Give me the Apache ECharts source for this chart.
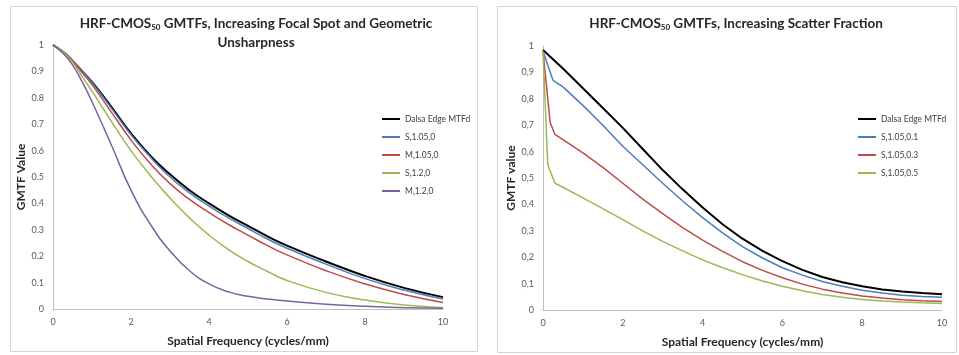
<!DOCTYPE html>
<html>
<head>
<meta charset="utf-8">
<script src="https://cdn.jsdelivr.net/npm/echarts@6/dist/echarts.min.js"></script>
<style>
  html, body { margin: 0; padding: 0; background: #fff; }
  #chart { width: 959px; height: 355px; }
</style>
</head>
<body>
<div id="chart"></div>
<script>
// left panel: focal spot / geometric unsharpness
const freqLeft = [0, 0.25, 0.5, 0.75, 1, 1.5, 2, 2.5, 3, 3.5, 4, 4.5, 5, 5.5, 6, 7, 8, 9, 10]
const dalsaLeft = [1, 0.975, 0.94, 0.9, 0.86, 0.765, 0.665, 0.58, 0.51, 0.45, 0.4, 0.355, 0.315, 0.275, 0.24, 0.18, 0.125, 0.08, 0.045]
const s105 = [1, 0.975, 0.94, 0.9, 0.858, 0.76, 0.66, 0.575, 0.5, 0.44, 0.39, 0.345, 0.305, 0.265, 0.23, 0.17, 0.115, 0.072, 0.038]
const m105 = [1, 0.975, 0.94, 0.895, 0.85, 0.745, 0.64, 0.55, 0.475, 0.415, 0.365, 0.32, 0.28, 0.24, 0.205, 0.145, 0.095, 0.055, 0.025]
const s12 = [1, 0.975, 0.935, 0.88, 0.825, 0.71, 0.6, 0.505, 0.42, 0.345, 0.28, 0.225, 0.18, 0.142, 0.108, 0.063, 0.034, 0.015, 0.005]
const m12 = [1, 0.97, 0.925, 0.86, 0.785, 0.62, 0.45, 0.32, 0.22, 0.145, 0.095, 0.065, 0.048, 0.038, 0.03, 0.018, 0.01, 0.005, 0.003]

// right panel: scatter fraction
const freqDalsaR = [0, 0.5, 1, 1.5, 2, 2.5, 3, 3.5, 4, 4.5, 5, 5.5, 6, 6.5, 7, 7.5, 8, 8.5, 9, 9.5, 10]
const dalsaRight = [0.985, 0.915, 0.84, 0.765, 0.69, 0.61, 0.53, 0.457, 0.388, 0.325, 0.27, 0.224, 0.185, 0.152, 0.125, 0.105, 0.09, 0.078, 0.07, 0.064, 0.06]
const freqSf01 = [0, 0.25, 0.5, 1, 1.5, 2, 2.5, 3, 3.5, 4, 4.5, 5, 5.5, 6, 6.5, 7, 7.5, 8, 8.5, 9, 9.5, 10]
const sf01 = [0.98, 0.87, 0.845, 0.775, 0.7, 0.62, 0.55, 0.48, 0.413, 0.35, 0.292, 0.24, 0.197, 0.16, 0.132, 0.108, 0.09, 0.075, 0.064, 0.056, 0.051, 0.048]
const freqSf03 = [0, 0.18, 0.3, 0.5, 1, 1.5, 2, 2.5, 3, 3.5, 4, 4.5, 5, 5.5, 6, 6.5, 7, 7.5, 8, 8.5, 9, 9.5, 10]
const sf03 = [0.98, 0.71, 0.665, 0.645, 0.595, 0.54, 0.48, 0.42, 0.365, 0.312, 0.265, 0.222, 0.183, 0.15, 0.122, 0.098, 0.079, 0.064, 0.053, 0.045, 0.039, 0.035, 0.032]
const freqSf05 = [0, 0.12, 0.3, 0.5, 1, 1.5, 2, 2.5, 3, 3.5, 4, 4.5, 5, 5.5, 6, 6.5, 7, 7.5, 8, 8.5, 9, 9.5, 10]
const sf05 = [0.98, 0.55, 0.48, 0.465, 0.425, 0.384, 0.342, 0.3, 0.26, 0.224, 0.19, 0.16, 0.134, 0.11, 0.09, 0.073, 0.059, 0.048, 0.04, 0.034, 0.03, 0.027, 0.025]

const namesLeft = ['Dalsa Edge MTFd', 'S,1.05,0', 'M,1.05,0', 'S,1.2,0', 'M,1.2,0']
const namesRight = ['Dalsa Edge MTFd ', 'S,1.05,0.1', 'S,1.05,0.3', 'S,1.05,0.5']

const FONT = 'Lato, "Liberation Sans", sans-serif'
const BLACK = '#000000', BLUE = '#4a7ebb', RED = '#be4b48', GREEN = '#98b954', PURPLE = '#7d60a0'

function pairs(xs, ys) {
  return xs.map(function (x, i) { return [x, ys[i]] })
}

function xAxisFor(gridIndex) {
  return {
    type: 'value', gridIndex: gridIndex, min: 0, max: 10, interval: 2,
    name: 'Spatial Frequency (cycles/mm)', nameLocation: 'middle', nameGap: 26,
    nameTextStyle: { fontFamily: FONT, fontWeight: 'bold', fontSize: 12, color: '#262626' },
    axisLine: { lineStyle: { color: '#bfbfbf', width: 1 } },
    axisTick: { show: false },
    axisLabel: { fontFamily: FONT, fontSize: 9, color: '#595959', margin: 9 },
    splitLine: { show: false }
  }
}

function yAxisFor(gridIndex, name, comma) {
  return {
    type: 'value', gridIndex: gridIndex, min: 0, max: 1, interval: 0.1,
    name: name, nameLocation: 'middle', nameGap: 26,
    nameTextStyle: { fontFamily: FONT, fontWeight: 'bold', fontSize: 12, color: '#262626' },
    axisLine: { show: true, lineStyle: { color: '#bfbfbf', width: 1 } },
    axisTick: { show: false },
    axisLabel: {
      fontFamily: FONT, fontSize: 9, color: '#595959', margin: 9,
      formatter: function (v) {
        let s = String(Math.round(v * 10) / 10)
        return comma ? s.replace('.', ',') : s
      }
    },
    splitLine: { show: false }
  }
}

function line(name, data, color, xi, width, smooth) {
  return {
    name: name, type: 'line', xAxisIndex: xi, yAxisIndex: xi,
    data: data, showSymbol: false, smooth: smooth,
    lineStyle: { color: color, width: width },
    itemStyle: { color: color }
  }
}

const legendStyle = {
  orient: 'vertical', itemWidth: 18, itemHeight: 2, itemGap: 8,
  icon: 'rect',
  textStyle: { fontFamily: FONT, fontSize: 8.5, color: '#404040', lineHeight: 10 }
}

const titleRich = {
  b: { fontFamily: FONT, fontWeight: 'bold', fontSize: 13.5, color: '#262626', lineHeight: 19 },
  s: { fontFamily: FONT, fontWeight: 'bold', fontSize: 8, color: '#262626', lineHeight: 19, padding: [7, 0, 0, 0] }
}

const option = {
  animation: false,
  backgroundColor: '#ffffff',
  title: [
    {
      text: '{b|HRF-CMOS}{s|50}{b| GMTFs, Increasing Focal Spot and Geometric}\n{b|Unsharpness}',
      left: 251, top: 9, textAlign: 'center',
      textStyle: { rich: titleRich }
    },
    {
      text: '{b|HRF-CMOS}{s|50}{b| GMTFs, Increasing Scatter Fraction}',
      left: 731, top: 9, textAlign: 'center',
      textStyle: { rich: titleRich }
    }
  ],
  graphic: [
    { type: 'rect', shape: { x: 10.5, y: 6.5, width: 467, height: 345 }, style: { fill: 'none', stroke: '#d4d4d4', lineWidth: 1 }, silent: true },
    { type: 'rect', shape: { x: 497.5, y: 6.5, width: 459, height: 346 }, style: { fill: 'none', stroke: '#d4d4d4', lineWidth: 1 }, silent: true }
  ],
  legend: [
    Object.assign({ left: 377, top: 109, data: namesLeft }, legendStyle),
    Object.assign({ left: 853, top: 109, data: namesRight }, legendStyle)
  ],
  grid: [
    { left: 53, right: 516, top: 45, bottom: 46 },
    { left: 543, right: 17, top: 46, bottom: 45 }
  ],
  xAxis: [xAxisFor(0), xAxisFor(1)],
  yAxis: [yAxisFor(0, 'GMTF Value', false), yAxisFor(1, 'GMTF value', true)],
  series: [
    line(namesLeft[0], pairs(freqLeft, dalsaLeft), BLACK, 0, 2, true),
    line(namesLeft[1], pairs(freqLeft, s105), BLUE, 0, 1.5, true),
    line(namesLeft[2], pairs(freqLeft, m105), RED, 0, 1.5, true),
    line(namesLeft[3], pairs(freqLeft, s12), GREEN, 0, 1.5, true),
    line(namesLeft[4], pairs(freqLeft, m12), PURPLE, 0, 1.5, true),
    line(namesRight[0], pairs(freqDalsaR, dalsaRight), BLACK, 1, 2, false),
    line(namesRight[1], pairs(freqSf01, sf01), BLUE, 1, 1.5, false),
    line(namesRight[2], pairs(freqSf03, sf03), RED, 1, 1.5, false),
    line(namesRight[3], pairs(freqSf05, sf05), GREEN, 1, 1.5, false)
  ]
}

const chart = echarts.init(document.getElementById('chart'))
chart.setOption(option)
</script>
</body>
</html>
